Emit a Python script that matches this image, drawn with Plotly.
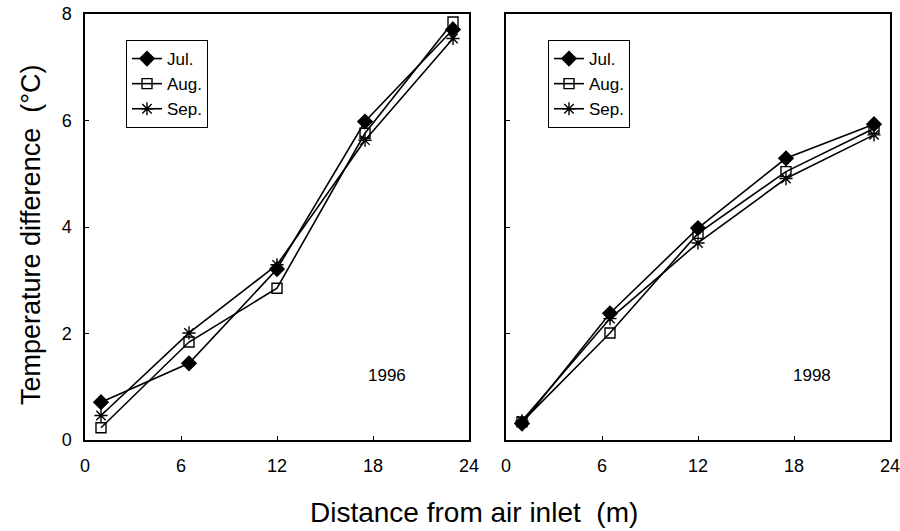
import plotly.graph_objects as go

# Data
distance = [1, 6.5, 12, 17.5, 23]
months = ["Jul.", "Aug.", "Sep."]
y1996_jul = [0.71, 1.44, 3.21, 5.98, 7.71]
y1996_aug = [0.23, 1.84, 2.85, 5.76, 7.85]
y1996_sep = [0.46, 2.01, 3.29, 5.63, 7.54]
y1998_jul = [0.31, 2.38, 3.98, 5.29, 5.93]
y1998_aug = [0.34, 2.01, 3.88, 5.04, 5.85]
y1998_sep = [0.36, 2.28, 3.70, 4.91, 5.73]
x_ticks = [0, 6, 12, 18, 24]
y_ticks = [0, 2, 4, 6, 8]

symbols = ["diamond", "square-open", "asterisk-open"]
sizes = [11, 10, 11]
FONT = "Liberation Sans, Arial, sans-serif"

fig = go.Figure()
panels = [
    ([y1996_jul, y1996_aug, y1996_sep], "x", "y", "legend"),
    ([y1998_jul, y1998_aug, y1998_sep], "x2", "y2", "legend2"),
]
for series, xa, ya, lg in panels:
    for name, vals, sym, sz in zip(months, series, symbols, sizes):
        fig.add_trace(go.Scatter(
            x=distance, y=vals, name=name, mode="lines+markers",
            xaxis=xa, yaxis=ya, legend=lg,
            line=dict(color="black", width=1.6),
            marker=dict(symbol=sym, size=sz, color="black",
                        line=dict(color="black", width=1.4)),
        ))

axis_common = dict(
    range=[0, 24], tickvals=x_ticks, ticks="inside", ticklen=4,
    tickcolor="black", showline=True, linecolor="black", linewidth=1.5,
    mirror=True, showgrid=False, zeroline=False, automargin=False,
    tickfont=dict(family=FONT, size=18, color="black"),
    ticklabelstandoff=9, ticklabeloverflow="allow",
)
yaxis_common = dict(
    range=[0, 8], tickvals=y_ticks, ticks="inside", ticklen=4,
    tickcolor="black", showline=True, linecolor="black", linewidth=1.5,
    mirror=True, showgrid=False, zeroline=False, automargin=False,
    tickfont=dict(family=FONT, size=18, color="black"),
    ticklabelstandoff=8, ticklabeloverflow="allow",
)

legend_common = dict(
    bgcolor="white", bordercolor="black", borderwidth=1,
    font=dict(family=FONT, size=17, color="black"),
    xanchor="left", yanchor="top", tracegroupgap=0, itemwidth=30,
)

fig.update_layout(
    width=900, height=531,
    margin=dict(l=0, r=0, t=0, b=0, autoexpand=False),
    paper_bgcolor="white", plot_bgcolor="white",
    showlegend=True,
    xaxis=dict(domain=[85/900, 469/900], anchor="y", **axis_common),
    yaxis=dict(domain=[1-440/531, 1-14/531], anchor="x", **yaxis_common),
    xaxis2=dict(domain=[506/900, 890/900], anchor="y2", **axis_common),
    yaxis2=dict(domain=[1-440/531, 1-14/531], anchor="x2", showticklabels=False,
                **yaxis_common),
    legend=dict(x=126/900, y=1-40/531, **legend_common),
    legend2=dict(x=548/900, y=1-40/531, **legend_common),
    annotations=[
        dict(text="1996", x=18.9, y=1.22, xref="x", yref="y", showarrow=False,
             font=dict(family=FONT, size=17, color="black")),
        dict(text="1998", x=19.1, y=1.22, xref="x2", yref="y2", showarrow=False,
             font=dict(family=FONT, size=17, color="black")),
        dict(text="Distance from air inlet  (m)", x=474/900, y=1-512/531,
             xref="paper", yref="paper", showarrow=False,
             xanchor="center", yanchor="middle",
             font=dict(family=FONT, size=28, color="black")),
        dict(text="Temperature difference  (°C)", x=31/900, y=1-235/531,
             xref="paper", yref="paper", showarrow=False, textangle=-90,
             xanchor="center", yanchor="middle",
             font=dict(family=FONT, size=27, color="black")),
    ],
)

fig.write_html(
    "out.html",
    config={"displayModeBar": False},
    post_script="document.body.style.margin='0';document.body.style.overflow='hidden';",
)
